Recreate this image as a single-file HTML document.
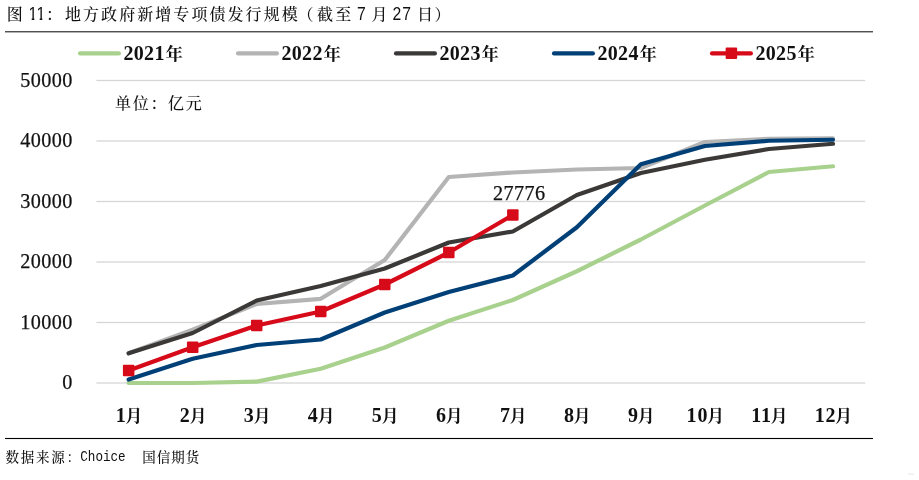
<!DOCTYPE html>
<html lang="zh-CN"><head><meta charset="utf-8"><title>图 11</title>
<style>
html,body{margin:0;padding:0;background:#fff;}
body{width:919px;height:480px;overflow:hidden;position:relative;}
svg{position:absolute;left:0;top:0;display:block;}
.kai{font-family:"Liberation Sans","Noto Serif CJK SC",serif;font-weight:500;fill:#111;}
.ser{font-family:"Liberation Serif","Noto Serif CJK SC",serif;fill:#111;}
.mono{font-family:"Liberation Mono",monospace;fill:#111;}
.b{font-weight:700;}
.med{stroke:#111;stroke-width:0.25px;}
</style></head><body>
<svg width="919" height="480" viewBox="0 0 919 480">

<rect x="5" y="31" width="868" height="1.45" fill="#505050"/>
<rect x="5" y="437.95" width="868" height="1.1" fill="#000"/>
<rect x="96.4" y="79.85" width="768.8" height="1.3" fill="#d6d6d6"/>
<rect x="96.4" y="140.35" width="768.8" height="1.3" fill="#d6d6d6"/>
<rect x="96.4" y="200.85" width="768.8" height="1.3" fill="#d6d6d6"/>
<rect x="96.4" y="261.35" width="768.8" height="1.3" fill="#d6d6d6"/>
<rect x="96.4" y="321.85" width="768.8" height="1.3" fill="#d6d6d6"/>
<rect x="96.4" y="382.35" width="768.8" height="1.3" fill="#d6d6d6"/>
<text class="kai" x="6.8" y="20.3" font-size="16" >图</text>
<clipPath id="c11"><rect x="20" y="0" width="40" height="18"/><rect x="31.7" y="17.9" width="2.6" height="4"/><rect x="39.7" y="17.9" width="2.6" height="4"/></clipPath>
<g clip-path="url(#c11)">
<text class="kai" transform="translate(28.6,20.2) scale(0.9,1)" font-size="17.5" letter-spacing="0.3">11</text>
</g>
<text class="kai" x="46" y="20.3" font-size="16" >：</text>
<text class="kai" x="65.0" y="20.3" font-size="16" letter-spacing="2.06">地方政府新增专项债发行规模</text>
<text class="kai" x="297.6" y="20.3" font-size="16" >（</text>
<text class="kai" x="317" y="20.3" font-size="16" letter-spacing="2.3">截至</text>
<text class="kai" transform="translate(357.0,20.2) scale(0.9,1)" font-size="17.5" >7</text>
<text class="kai" x="371.5" y="20.3" font-size="16" >月</text>
<text class="kai" transform="translate(392.6,20.2) scale(0.9,1)" font-size="17.5" letter-spacing="0.9">27</text>
<text class="kai" x="417" y="20.3" font-size="16" >日</text>
<text class="kai" x="434.5" y="20.3" font-size="16" >）</text>
<text class="kai" x="115" y="108.5" font-size="16" letter-spacing="1.7">单位：亿元</text>
<text class="kai" x="5.6" y="462" font-size="13.5" letter-spacing="1.7">数据来源：</text>
<text class="mono" transform="translate(80.3,461) scale(0.87,1)" font-size="14.5" >Choice</text>
<text class="kai" x="142.2" y="462" font-size="13.5" letter-spacing="1.0">国信期货</text>
<text class="ser med" x="72.9" y="86.70" font-size="20.2" text-anchor="end" letter-spacing="0.45">50000</text>
<text class="ser med" x="72.9" y="147.20" font-size="20.2" text-anchor="end" letter-spacing="0.45">40000</text>
<text class="ser med" x="72.9" y="207.70" font-size="20.2" text-anchor="end" letter-spacing="0.45">30000</text>
<text class="ser med" x="72.9" y="268.20" font-size="20.2" text-anchor="end" letter-spacing="0.45">20000</text>
<text class="ser med" x="72.9" y="328.70" font-size="20.2" text-anchor="end" letter-spacing="0.45">10000</text>
<text class="ser med" x="72.9" y="389.20" font-size="20.2" text-anchor="end" letter-spacing="0.45">0</text>
<text class="ser b" x="129.15" y="422" font-size="20" text-anchor="middle" letter-spacing="0.8">1<tspan font-size="17.2" dx="-1.2" letter-spacing="0">月</tspan></text>
<text class="ser b" x="193.18" y="422" font-size="20" text-anchor="middle" letter-spacing="0.8">2<tspan font-size="17.2" dx="-1.2" letter-spacing="0">月</tspan></text>
<text class="ser b" x="257.21" y="422" font-size="20" text-anchor="middle" letter-spacing="0.8">3<tspan font-size="17.2" dx="-1.2" letter-spacing="0">月</tspan></text>
<text class="ser b" x="321.24" y="422" font-size="20" text-anchor="middle" letter-spacing="0.8">4<tspan font-size="17.2" dx="-1.2" letter-spacing="0">月</tspan></text>
<text class="ser b" x="385.27" y="422" font-size="20" text-anchor="middle" letter-spacing="0.8">5<tspan font-size="17.2" dx="-1.2" letter-spacing="0">月</tspan></text>
<text class="ser b" x="449.30" y="422" font-size="20" text-anchor="middle" letter-spacing="0.8">6<tspan font-size="17.2" dx="-1.2" letter-spacing="0">月</tspan></text>
<text class="ser b" x="513.33" y="422" font-size="20" text-anchor="middle" letter-spacing="0.8">7<tspan font-size="17.2" dx="-1.2" letter-spacing="0">月</tspan></text>
<text class="ser b" x="577.36" y="422" font-size="20" text-anchor="middle" letter-spacing="0.8">8<tspan font-size="17.2" dx="-1.2" letter-spacing="0">月</tspan></text>
<text class="ser b" x="641.39" y="422" font-size="20" text-anchor="middle" letter-spacing="0.8">9<tspan font-size="17.2" dx="-1.2" letter-spacing="0">月</tspan></text>
<text class="ser b" x="705.42" y="422" font-size="20" text-anchor="middle" letter-spacing="0.8">10<tspan font-size="17.2" dx="-1.2" letter-spacing="0">月</tspan></text>
<text class="ser b" x="769.45" y="422" font-size="20" text-anchor="middle" letter-spacing="0.8">11<tspan font-size="17.2" dx="-1.2" letter-spacing="0">月</tspan></text>
<text class="ser b" x="833.48" y="422" font-size="20" text-anchor="middle" letter-spacing="0.8">12<tspan font-size="17.2" dx="-1.2" letter-spacing="0">月</tspan></text>
<line x1="80.0" y1="53.4" x2="118.9" y2="53.4" stroke="#A9D18E" stroke-width="4.2" stroke-linecap="round"/>
<text class="ser b" x="123.5" y="60" font-size="20" letter-spacing="0.3">2021<tspan font-size="17.4" dx="0.8">年</tspan></text>
<line x1="238.0" y1="53.4" x2="276.9" y2="53.4" stroke="#B4B4B4" stroke-width="4.2" stroke-linecap="round"/>
<text class="ser b" x="281.5" y="60" font-size="20" letter-spacing="0.3">2022<tspan font-size="17.4" dx="0.8">年</tspan></text>
<line x1="396.0" y1="53.4" x2="434.9" y2="53.4" stroke="#3B3838" stroke-width="4.2" stroke-linecap="round"/>
<text class="ser b" x="439.5" y="60" font-size="20" letter-spacing="0.3">2023<tspan font-size="17.4" dx="0.8">年</tspan></text>
<line x1="554.0" y1="53.4" x2="592.9" y2="53.4" stroke="#004077" stroke-width="4.2" stroke-linecap="round"/>
<text class="ser b" x="597.5" y="60" font-size="20" letter-spacing="0.3">2024<tspan font-size="17.4" dx="0.8">年</tspan></text>
<line x1="712.0" y1="53.4" x2="750.9" y2="53.4" stroke="#D70A1A" stroke-width="4.2" stroke-linecap="round"/>
<rect x="725.65" y="47.55" width="11.5" height="11.5" rx="1" fill="#D70A1A"/>
<text class="ser b" x="755.5" y="60" font-size="20" letter-spacing="0.3">2025<tspan font-size="17.4" dx="0.8">年</tspan></text>
<polyline points="128.65,383.00 192.68,383.00 256.71,381.60 320.74,368.75 384.77,347.50 448.80,320.75 512.83,300.00 576.86,271.25 640.89,239.50 704.92,205.50 768.95,172.00 832.98,166.25" fill="none" stroke="#A9D18E" stroke-width="4.2" stroke-linecap="round" stroke-linejoin="round"/>
<polyline points="128.65,353.25 192.68,329.60 256.71,304.00 320.74,298.80 384.77,260.00 448.80,177.00 512.83,172.50 576.86,169.50 640.89,168.00 704.92,142.00 768.95,138.75 832.98,138.25" fill="none" stroke="#B4B4B4" stroke-width="4.2" stroke-linecap="round" stroke-linejoin="round"/>
<polyline points="128.65,353.25 192.68,333.00 256.71,300.50 320.74,286.00 384.77,268.50 448.80,242.50 512.83,231.50 576.86,195.00 640.89,173.00 704.92,159.75 768.95,149.00 832.98,143.75" fill="none" stroke="#3B3838" stroke-width="4.2" stroke-linecap="round" stroke-linejoin="round"/>
<polyline points="128.65,379.50 192.68,358.75 256.71,345.00 320.74,339.50 384.77,312.50 448.80,292.00 512.83,275.50 576.86,227.25 640.89,164.25 704.92,146.00 768.95,140.75 832.98,139.75" fill="none" stroke="#004077" stroke-width="4.2" stroke-linecap="round" stroke-linejoin="round"/>
<polyline points="128.65,370.50 192.68,347.25 256.71,325.50 320.74,311.50 384.77,284.50 448.80,252.50 512.83,215.00" fill="none" stroke="#D70A1A" stroke-width="4.2" stroke-linecap="round" stroke-linejoin="round"/>
<rect x="122.90" y="364.75" width="11.5" height="11.5" rx="1" fill="#D70A1A"/>
<rect x="186.93" y="341.50" width="11.5" height="11.5" rx="1" fill="#D70A1A"/>
<rect x="250.96" y="319.75" width="11.5" height="11.5" rx="1" fill="#D70A1A"/>
<rect x="314.99" y="305.75" width="11.5" height="11.5" rx="1" fill="#D70A1A"/>
<rect x="379.02" y="278.75" width="11.5" height="11.5" rx="1" fill="#D70A1A"/>
<rect x="443.05" y="246.75" width="11.5" height="11.5" rx="1" fill="#D70A1A"/>
<rect x="507.08" y="209.25" width="11.5" height="11.5" rx="1" fill="#D70A1A"/>
<text class="ser med" x="519.3" y="200.2" font-size="20.2" text-anchor="middle" letter-spacing="0.45">27776</text>
<rect x="908" y="473.6" width="6" height="1" fill="#e6e6e6"/>
</svg></body></html>
